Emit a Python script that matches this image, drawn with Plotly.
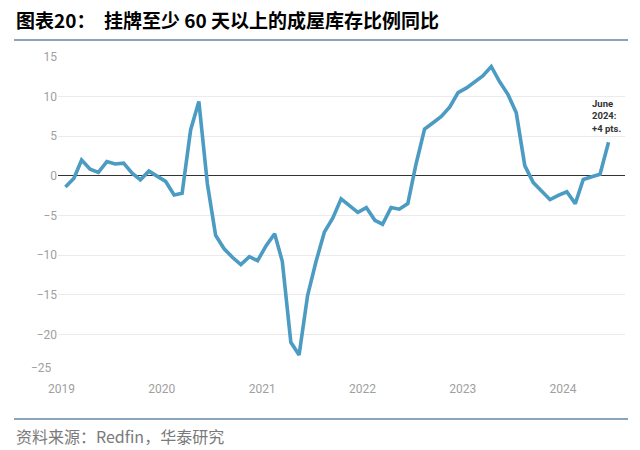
import pandas as pd
import plotly.graph_objects as go

# Monthly data, Jan 2019 - Jun 2024 (YoY change, pts)
months = pd.date_range("2019-01-01", periods=66, freq="MS") + pd.Timedelta(days=14)
values = [-1.4, -0.3, 2.0, 0.85, 0.45, 1.8, 1.5, 1.6, 0.35, -0.5, 0.6, 0.0,
          -0.7, -2.4, -2.2, 5.8, 9.4, -1.0, -7.5, -9.2, -10.3, -11.2, -10.2, -10.7,
          -8.8, -7.3, -10.8, -21.0, -22.6, -15.1, -10.9, -7.1, -5.3, -2.9, -3.7, -4.6,
          -4.0, -5.6, -6.1, -4.0, -4.2, -3.5, 1.5, 5.9, 6.7, 7.5, 8.7, 10.5,
          11.1, 11.9, 12.6, 13.8, 11.9, 10.25, 7.95, 1.3, -0.85, -1.9, -3.0, -2.45,
          -2.0, -3.5, -0.45, -0.1, 0.2, 4.25]
year_ticks = ["2019-01-01", "2020-01-01", "2021-01-01", "2022-01-01", "2023-01-01", "2024-01-01"]
year_labels = ["2019", "2020", "2021", "2022", "2023", "2024"]
y_ticks = [15, 10, 5, 0, -5, -10, -15, -20, -25]
y_labels = ["15", "10", "5", "0", "−5", "−10", "−15", "−20", ""]
bottom_label = "−25"

title_text = "图表20：  挂牌至少 60 天以上的成屋库存比例同比"
source_text = "资料来源：Redfin，华泰研究"
note_text = "June<br>2024:<br>+4 pts."

fig = go.Figure()
fig.add_trace(go.Scatter(
    x=months, y=values, mode="lines",
    line=dict(color="#4b9bc3", width=3.6),
    hoverinfo="skip", showlegend=False,
))

# plot area in pixels: x 58..625, y 57..374
L, R, T, B = 58, 625, 57, 374
W, H = 640, 450
pw, ph = R - L, B - T

def px(x):
    return (x - L) / pw

def py(y):
    return (B - y) / ph

tick_font = dict(family="Roboto", size=12, color="#a0a0a0")

fig.update_layout(
    width=W, height=H,
    margin=dict(l=L, r=W - R, t=T, b=H - B),
    paper_bgcolor="white", plot_bgcolor="white",
    xaxis=dict(
        range=["2018-12-19", "2024-08-14"],
        tickvals=year_ticks, ticktext=year_labels,
        showgrid=False, zeroline=False, showline=False, ticks="",
        ticklabelstandoff=6,
        tickfont=tick_font,
    ),
    yaxis=dict(
        range=[-25, 15],
        tickvals=y_ticks, ticktext=y_labels,
        showgrid=True, gridcolor="#ebebeb", gridwidth=1,
        zeroline=True, zerolinecolor="#333333", zerolinewidth=1.2,
        showline=False, ticks="",
        tickfont=tick_font,
    ),
    font=dict(family="Roboto"),
)

shapes = [
    dict(type="line", xref="paper", yref="paper", x0=px(14), x1=px(628),
         y0=py(40), y1=py(40), line=dict(color="#8ba3bb", width=2)),
    dict(type="line", xref="paper", yref="paper", x0=px(14), x1=px(628),
         y0=py(419), y1=py(419), line=dict(color="#8ba3bb", width=2)),
]
fig.update_layout(shapes=shapes)

fig.add_annotation(
    xref="paper", yref="paper", x=px(54), y=py(368),
    xanchor="right", yanchor="middle", showarrow=False,
    text=bottom_label, font=tick_font,
)
fig.add_annotation(
    xref="paper", yref="paper", x=px(14), y=py(19),
    xanchor="left", yanchor="middle", showarrow=False,
    text="<b>" + title_text + "</b>",
    font=dict(family="Noto Sans CJK SC", size=19, color="#000000"),
)
fig.add_annotation(
    xref="paper", yref="paper", x=px(14), y=py(436),
    xanchor="left", yanchor="middle", showarrow=False,
    text=source_text,
    font=dict(family="Noto Sans CJK SC", size=16, color="#7a7a7a"),
)
fig.add_annotation(
    xref="paper", yref="paper", x=px(590), y=py(116),
    xanchor="left", yanchor="middle", showarrow=False, align="left",
    text="<b>" + note_text + "</b>",
    font=dict(family="Roboto", size=9.5, color="#333333"),
)

fig.write_html("out.html")
